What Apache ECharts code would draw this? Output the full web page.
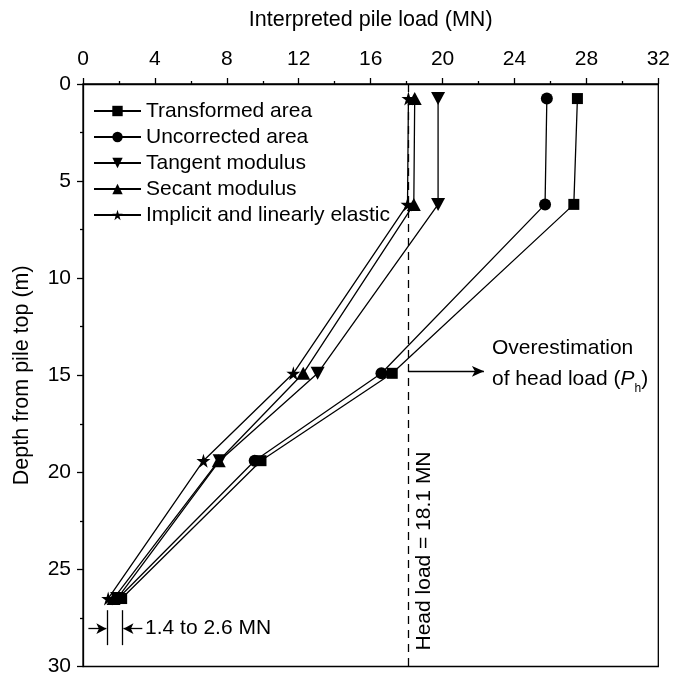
<!DOCTYPE html>
<html>
<head>
<meta charset="utf-8">
<script src="https://cdn.jsdelivr.net/npm/echarts@6/dist/echarts.min.js"></script>
<style>
  html, body { margin: 0; padding: 0; background: #fff; }
  #main { width: 673px; height: 677px; }
</style>
</head>
<body>
<div id="main"></div>
<script>
// depths of the measuring levels (m)
var depths = [0.75, 6.2, 14.9, 19.4, 26.5];
// interpreted loads (MN) at each depth
var transformedArea = [27.5, 27.3, 17.2, 9.9, 2.15];
var uncorrectedArea = [25.8, 25.7, 16.6, 9.55, 1.95];
var tangentModulus = [19.75, 19.75, 13.05, 7.6, 1.9];
var secantModulus = [18.45, 18.4, 12.25, 7.55, 1.7];
var implicitElastic = [18.1, 18.05, 11.7, 6.7, 1.4];

var xTicks = [0, 32, 4];
var yTicks = [0, 30, 5];
var headLoad = 18.1;

var FONT = "'Liberation Sans', Arial, sans-serif";
var FS = 21;
var STAR = "path://M50,0 L61,35 L98,35 L68,57 L79,91 L50,70 L21,91 L32,57 L2,35 L39,35 Z";
var DOWN_TRI = "path://M0,0 L20,0 L10,18 Z";

function pairs(xs) {
  return xs.map(function (x, i) { return [x, depths[i]]; });
}

function lineSeries(name, values, symbol, size) {
  return {
    name: name,
    type: "line",
    data: pairs(values),
    symbol: symbol,
    symbolSize: size,
    showAllSymbol: true,
    lineStyle: { color: "#000", width: 1.3 },
    itemStyle: { color: "#000" },
    animation: false,
    z: 3,
  };
}

var chart = echarts.init(document.getElementById("main"));

var option = {
  animation: false,
  textStyle: { fontFamily: FONT },
  grid: {
    left: 83, right: 14, top: 84, bottom: 10,
    show: true, borderColor: "#000", borderWidth: 1.3,
  },
  legend: {
    orient: "vertical",
    left: 88,
    top: 95,
    itemWidth: 47,
    itemHeight: 13,
    itemGap: 4,
    textStyle: { fontSize: FS, color: "#000", fontFamily: FONT, lineHeight: 22 },
    data: [
      "Transformed area",
      "Uncorrected area",
      "Tangent modulus",
      "Secant modulus",
      "Implicit and linearly elastic",
    ],
  },
  xAxis: {
    type: "value",
    position: "top",
    min: xTicks[0], max: xTicks[1], interval: xTicks[2],
    name: "Interpreted pile load (MN)",
    nameLocation: "middle",
    nameGap: 53,
    nameTextStyle: { fontSize: FS + 0.5, color: "#000", fontFamily: FONT },
    axisLine: { lineStyle: { color: "#000", width: 1.3 } },
    axisTick: { inside: false, length: 6, lineStyle: { color: "#000", width: 1.3 } },
    minorTick: { show: true, splitNumber: 2, length: 3, lineStyle: { color: "#000", width: 1.3 } },
    axisLabel: { fontSize: FS, color: "#000", margin: 14, fontFamily: FONT },
    splitLine: { show: false },
  },
  yAxis: {
    type: "value",
    inverse: true,
    min: yTicks[0], max: yTicks[1], interval: yTicks[2],
    name: "Depth from pile top (m)",
    nameLocation: "middle",
    nameGap: 50,
    nameTextStyle: { fontSize: FS + 0.5, color: "#000", fontFamily: FONT },
    axisLine: { lineStyle: { color: "#000", width: 1.3 } },
    axisTick: { inside: false, length: 6, lineStyle: { color: "#000", width: 1.3 } },
    minorTick: { show: true, splitNumber: 2, length: 3, lineStyle: { color: "#000", width: 1.3 } },
    axisLabel: { fontSize: FS, color: "#000", margin: 12, fontFamily: FONT },
    splitLine: { show: false },
  },
  series: [
    lineSeries("Transformed area", transformedArea, "rect", 11),
    lineSeries("Uncorrected area", uncorrectedArea, "circle", 12),
    lineSeries("Tangent modulus", tangentModulus, DOWN_TRI, [14, 13]),
    lineSeries("Secant modulus", secantModulus, "triangle", [14, 13]),
    lineSeries("Implicit and linearly elastic", implicitElastic, STAR, 14),
    {
      // annotations: head load line, arrows and range markers
      type: "line",
      data: [],
      silent: true,
      markLine: {
        silent: true,
        animation: false,
        symbol: ["none", "none"],
        label: { show: false },
        lineStyle: { color: "#000", width: 1.3, type: "solid" },
        data: [
          [
            { coord: [headLoad, 0], lineStyle: { type: [8, 6], width: 1.3, color: "#000" } },
            { coord: [headLoad, 30] },
          ],
          [
            { coord: [headLoad, 14.8], symbol: "none" },
            { coord: [22.3, 14.8], symbol: "arrow", symbolSize: [8, 12] },
          ],
          [{ coord: [1.35, 27.1] }, { coord: [1.35, 28.9] }],
          [{ coord: [2.2, 27.1] }, { coord: [2.2, 28.9] }],
          [
            { coord: [0.3, 28.05], symbol: "none" },
            { coord: [1.3, 28.05], symbol: "arrow", symbolSize: [8, 10] },
          ],
          [
            { coord: [3.3, 28.05], symbol: "none" },
            { coord: [2.25, 28.05], symbol: "arrow", symbolSize: [8, 10] },
          ],
        ],
      },
    },
  ],
};

chart.setOption(option);

// texts placed at data coordinates
function at(x, y) {
  return chart.convertToPixel({ gridIndex: 0 }, [x, y]);
}

var pOver = at(22.75, 14.4);
var pHead = at(headLoad, 30);
var pRange = at(3.45, 28.05);

chart.setOption({
  graphic: [
    {
      type: "text",
      x: pOver[0], y: pOver[1],
      style: {
        text: "Overestimation\n{n|of head load (}{i|P}{s|h}{n|)}",
        font: FS + "px " + FONT,
        fill: "#000",
        lineHeight: 31,
        verticalAlign: "middle",
        rich: {
          n: { fontSize: FS, fontFamily: FONT, fill: "#000" },
          i: { fontSize: FS, fontFamily: FONT, fontStyle: "italic", fill: "#000" },
          s: { fontSize: 12, fontFamily: FONT, fill: "#000", verticalAlign: "bottom", padding: [10, 0, 0, 0] },
        },
      },
    },
    {
      type: "text",
      x: pHead[0] + 16, y: pHead[1] - 16,
      rotation: Math.PI / 2,
      style: {
        text: "Head load = 18.1 MN",
        font: FS + "px " + FONT,
        fill: "#000",
        align: "left",
        verticalAlign: "middle",
      },
    },
    {
      type: "text",
      x: pRange[0], y: pRange[1],
      style: {
        text: "1.4 to 2.6 MN",
        font: FS + "px " + FONT,
        fill: "#000",
        verticalAlign: "middle",
      },
    },
  ],
});
</script>
</body>
</html>
